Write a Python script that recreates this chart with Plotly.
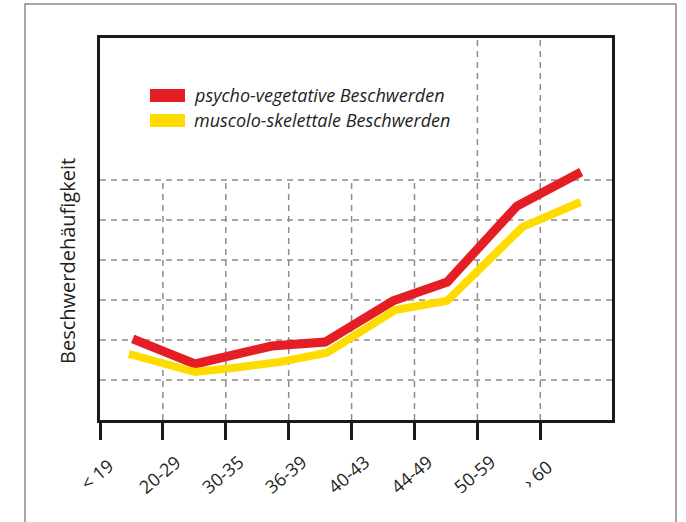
import plotly.graph_objects as go

# ---- data ----
categories = ["< 19", "20-29", "30-35", "36-39", "40-43", "44-49", "50-59", "› 60"]
series_names = ["psycho-vegetative Beschwerden", "muscolo-skelettale Beschwerden"]

psycho_x = [0.52, 1.51, 2.73, 3.58, 4.66, 5.52, 6.63, 7.65]
psycho_y = [2.03, 1.40, 1.85, 1.95, 2.98, 3.45, 5.35, 6.20]

muscolo_x = [0.46, 1.51, 2.11, 2.86, 3.61, 4.69, 5.52, 6.72, 7.64]
muscolo_y = [1.65, 1.20, 1.30, 1.45, 1.68, 2.75, 2.98, 4.83, 5.45]

y_title = "Beschwerdehäufigkeit"

# ---- style ----
RED = "#E51E25"
YELLOW = "#FFDC00"
GRID = "#8c8c8c"
TEXT = "#231f20"
XMAX = 8.14
YMAX = 9.55
PW, PH = 512, 382   # plot area size in px
PL, PT = 100, 38    # plot area position on page

fig = go.Figure()
fig.add_trace(go.Scatter(x=psycho_x, y=psycho_y, mode="lines", name=series_names[0],
                         line=dict(color=RED, width=9), showlegend=False, hoverinfo="skip"))
fig.add_trace(go.Scatter(x=muscolo_x, y=muscolo_y, mode="lines", name=series_names[1],
                         line=dict(color=YELLOW, width=8), showlegend=False, hoverinfo="skip"))


def px(xp):
    return (xp - PL) / PW


def py(yp):
    return (PT + PH - yp) / PH


shapes = []
dash = "6px,5px"
for yv in range(1, 7):
    shapes.append(dict(type="line", xref="x", yref="y", x0=0, x1=XMAX, y0=yv, y1=yv,
                       line=dict(color=GRID, width=1.5, dash=dash), layer="below"))
for i in range(1, len(categories)):
    top = 6 if i <= 5 else YMAX
    shapes.append(dict(type="line", xref="x", yref="y", x0=i, x1=i, y0=0, y1=top,
                       line=dict(color=GRID, width=1.5, dash=dash), layer="below"))
# outer frame
shapes.append(dict(type="rect", xref="paper", yref="paper",
                   x0=px(25), x1=px(676), y0=py(560), y1=py(4),
                   line=dict(color="#8a8a8a", width=1.5), fillcolor="rgba(0,0,0,0)"))
# legend swatches
for (c, ytop, ybot) in [(RED, 89, 102), (YELLOW, 114, 127)]:
    shapes.append(dict(type="rect", xref="paper", yref="paper",
                       x0=px(150), x1=px(185), y0=py(ybot), y1=py(ytop),
                       line=dict(width=0), fillcolor=c))

annotations = []
for name, yc in zip(series_names, [95, 120]):
    annotations.append(dict(text=name, xref="paper", yref="paper",
                            x=px(192), y=py(yc),
                            xanchor="left", yanchor="middle", showarrow=False,
                            font=dict(family="Open Sans", size=18, color=TEXT, style="italic")))
annotations.append(dict(text=y_title, xref="paper", yref="paper",
                        x=px(67), y=py(261), textangle=-90,
                        xanchor="center", yanchor="middle", showarrow=False,
                        font=dict(family="Open Sans", size=20, color=TEXT)))
for i, lab in enumerate(categories):
    annotations.append(dict(text=lab, xref="x", yref="paper", x=i, y=py(474),
                            xshift=-3, textangle=-40, xanchor="center", yanchor="middle",
                            showarrow=False,
                            font=dict(family="Open Sans", size=18, color=TEXT)))

fig.update_layout(
    width=686, height=522,
    margin=dict(l=PL, r=686 - PL - PW, t=PT, b=522 - PT - PH),
    paper_bgcolor="white", plot_bgcolor="white",
    shapes=shapes, annotations=annotations, hovermode=False,
    xaxis=dict(range=[0, XMAX], showgrid=False, zeroline=False,
               tickmode="array", tickvals=list(range(len(categories))),
               showticklabels=False, ticks="outside", ticklen=17, tickwidth=3,
               tickcolor="#1a1a1a", showline=True, linecolor="#1a1a1a", linewidth=3,
               mirror=True),
    yaxis=dict(range=[0, YMAX], showgrid=False, zeroline=False, showticklabels=False,
               ticks="", showline=True, linecolor="#1a1a1a", linewidth=3, mirror=True),
)

# remove the default 8px body margin so the figure sits at the page origin
fig.write_html("out.html", config={"displayModeBar": False},
               post_script="document.body.style.margin='0';")
